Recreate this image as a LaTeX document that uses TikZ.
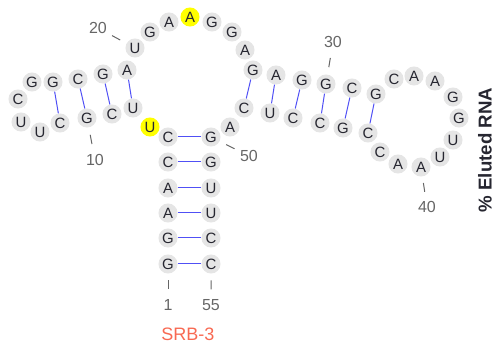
\documentclass[tikz,border=0pt]{standalone}
\usepackage{fontspec}
\setmainfont{Liberation Sans}
\usepackage{tikz}
\usetikzlibrary{calc}

\definecolor{ntgray}{RGB}{229,229,229}
\definecolor{ntyellow}{RGB}{255,255,0}
\definecolor{nttext}{RGB}{38,38,48}
\definecolor{pairblue}{RGB}{80,80,245}
\definecolor{numgray}{RGB}{102,102,102}
\definecolor{srbred}{RGB}{248,105,82}

\begin{document}
\begin{tikzpicture}[x=0.75pt, y=-0.75pt,
        nt/.style={circle, inner sep=0pt, minimum size=14.3pt, text=nttext,
            font=\fontsize{11.2}{13}\selectfont},
        pairline/.style={pairblue, line width=0.75pt},
        ticker/.style={numgray, line width=0.75pt},
        numlabel/.style={text=numgray, inner sep=0pt, font=\fontsize{12}{14}\selectfont}]
        \useasboundingbox (0,0) rectangle (494,342);

        \foreach \i/\b/\x/\y/\c in {
                1/G/168/264/ntgray, 2/G/168/238/ntgray, 3/A/168/213/ntgray,
                4/A/168/188/ntgray, 5/C/168/162/ntgray, 6/C/168/137/ntgray,
                7/U/150/127/ntyellow, 8/U/133/108/ntgray, 9/C/112/114/ntgray,
                10/G/87/118/ntgray, 11/C/60/123/ntgray, 12/U/40/132/ntgray,
                13/U/21/122/ntgray, 14/C/18/99/ntgray, 15/G/32/82/ntgray,
                16/G/53/82/ntgray, 17/C/78/79/ntgray, 18/G/103/74/ntgray,
                19/A/127/70/ntgray, 20/U/135/48/ntgray, 21/G/150/32/ntgray,
                22/A/169/22/ntgray, 23/A/190/17/ntyellow, 24/G/212/22/ntgray,
                25/G/232/32/ntgray, 26/A/245/50/ntgray, 27/G/253/70/ntgray,
                28/A/276/75/ntgray, 29/G/302/80/ntgray, 30/G/326/84/ntgray,
                31/C/352/88/ntgray, 32/G/376/94/ntgray, 33/C/394/79/ntgray,
                34/A/414/76/ntgray, 35/A/435/81/ntgray, 36/G/453/97/ntgray,
                37/G/459/118/ntgray, 38/U/453/140/ntgray, 39/U/440/157/ntgray,
                40/A/421/167/ntgray, 41/A/398/164/ntgray, 42/C/380/152/ntgray,
                43/C/368/133/ntgray, 44/G/343/128/ntgray, 45/C/320/123/ntgray,
                46/C/293/118/ntgray, 47/U/270/113/ntgray, 48/C/244/108/ntgray,
                49/A/230/127/ntgray, 50/G/211/137/ntgray, 51/G/211/162/ntgray,
                52/U/211/188/ntgray, 53/U/211/213/ntgray, 54/C/211/238/ntgray,
                55/C/211/264/ntgray}
            \node [nt, fill=\c] (n\i) at (\x,\y) {\b};

        \foreach \a/\b in {1/55, 2/54, 3/53, 4/52, 5/51, 6/50, 8/19, 9/18, 10/17, 11/16,
                27/48, 28/47, 29/46, 30/45, 31/44, 32/43}
            \draw [pairline] (n\a) -- (n\b);

        \foreach \i/\x/\y in {1/168/305, 10/95/160, 20/98/28, 30/333/42,
                40/427/207, 50/249/156, 55/211/305} {
            \node [numlabel] (l\i) at (\x,\y) {\i};
            \draw [ticker] ($(n\i)!0.4!(l\i)$) -- ($(n\i)!0.62!(l\i)$);
        }

        \node [text=srbred, font=\fontsize{13.5}{15}\selectfont] (name) at (188,334) {SRB-3};
        \node [rotate=90, text=nttext, font=\fontsize{14}{16}\selectfont\bfseries] (ylab) at (485,150) {\% Eluted RNA};
    \end{tikzpicture}
\end{document}
